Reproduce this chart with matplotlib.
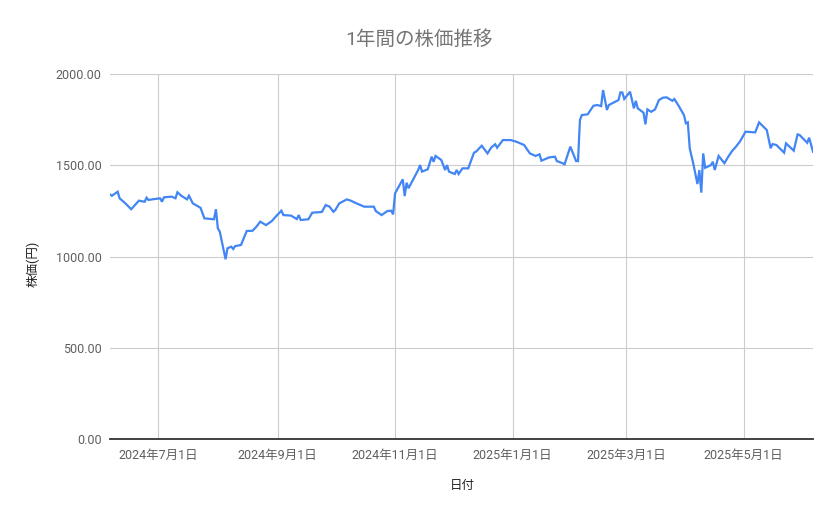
import pandas as pd
import matplotlib.pyplot as plt

# 読み取った株価データ
dates = [
    "2024-06-06", "2024-06-07", "2024-06-10", "2024-06-11", "2024-06-13", "2024-06-14",
    "2024-06-17", "2024-06-21", "2024-06-24", "2024-06-25", "2024-06-26", "2024-07-02",
    "2024-07-03", "2024-07-04", "2024-07-08", "2024-07-10", "2024-07-11", "2024-07-13",
    "2024-07-16", "2024-07-17", "2024-07-19", "2024-07-23", "2024-07-25", "2024-07-30",
    "2024-07-31", "2024-08-01", "2024-08-02", "2024-08-05", "2024-08-06", "2024-08-08",
    "2024-08-09", "2024-08-10", "2024-08-13", "2024-08-16", "2024-08-19", "2024-08-21",
    "2024-08-23", "2024-08-26", "2024-08-29", "2024-08-31", "2024-09-03", "2024-09-04",
    "2024-09-08", "2024-09-11", "2024-09-12", "2024-09-13", "2024-09-17", "2024-09-19",
    "2024-09-24", "2024-09-26", "2024-09-28", "2024-09-30", "2024-10-01", "2024-10-03",
    "2024-10-07", "2024-10-09", "2024-10-12", "2024-10-16", "2024-10-21", "2024-10-22",
    "2024-10-25", "2024-10-28", "2024-10-30", "2024-10-31", "2024-11-01", "2024-11-05",
    "2024-11-06", "2024-11-07", "2024-11-08", "2024-11-13", "2024-11-14", "2024-11-15",
    "2024-11-18", "2024-11-20", "2024-11-21", "2024-11-22", "2024-11-25", "2024-11-27",
    "2024-11-28", "2024-11-29", "2024-12-02", "2024-12-03", "2024-12-04", "2024-12-06",
    "2024-12-09", "2024-12-12", "2024-12-13", "2024-12-16", "2024-12-19", "2024-12-21",
    "2024-12-23", "2024-12-24", "2024-12-27", "2024-12-31", "2025-01-03", "2025-01-07",
    "2025-01-10", "2025-01-13", "2025-01-15", "2025-01-16", "2025-01-20", "2025-01-23",
    "2025-01-24", "2025-01-27", "2025-01-28", "2025-01-31", "2025-02-03", "2025-02-04",
    "2025-02-05", "2025-02-06", "2025-02-09", "2025-02-12", "2025-02-14", "2025-02-16",
    "2025-02-17", "2025-02-19", "2025-02-20", "2025-02-25", "2025-02-26", "2025-02-27",
    "2025-02-28", "2025-03-03", "2025-03-05", "2025-03-06", "2025-03-07", "2025-03-10",
    "2025-03-11", "2025-03-12", "2025-03-14", "2025-03-16", "2025-03-18", "2025-03-20",
    "2025-03-22", "2025-03-25", "2025-03-26", "2025-03-28", "2025-03-31", "2025-04-01",
    "2025-04-02", "2025-04-03", "2025-04-05", "2025-04-07", "2025-04-08", "2025-04-09",
    "2025-04-10", "2025-04-11", "2025-04-14", "2025-04-15", "2025-04-16", "2025-04-18",
    "2025-04-21", "2025-04-23", "2025-04-25", "2025-04-27", "2025-04-29", "2025-05-02",
    "2025-05-07", "2025-05-09", "2025-05-13", "2025-05-15", "2025-05-16", "2025-05-18",
    "2025-05-22", "2025-05-23", "2025-05-27", "2025-05-29", "2025-05-30", "2025-06-03",
    "2025-06-04", "2025-06-06",
]
prices = [
    1340, 1333, 1355, 1319, 1300, 1291,
    1259, 1306, 1300, 1322, 1310, 1319,
    1300, 1324, 1328, 1319, 1352, 1333,
    1313, 1333, 1291, 1267, 1209, 1204,
    1259, 1154, 1136, 985, 1045, 1054,
    1041, 1057, 1063, 1140, 1141, 1163,
    1191, 1172, 1194, 1218, 1251, 1227,
    1224, 1205, 1227, 1200, 1204, 1240,
    1244, 1282, 1273, 1245, 1255, 1291,
    1313, 1306, 1291, 1273, 1273, 1249,
    1227, 1249, 1251, 1231, 1346, 1423,
    1331, 1404, 1374, 1474, 1501, 1465,
    1478, 1547, 1519, 1551, 1529, 1474,
    1501, 1465, 1452, 1474, 1452, 1483,
    1483, 1569, 1574, 1607, 1565, 1598,
    1615, 1596, 1638, 1638, 1629, 1611,
    1565, 1551, 1560, 1525, 1543, 1547,
    1523, 1511, 1505, 1602, 1523, 1523,
    1748, 1775, 1779, 1826, 1830, 1824,
    1912, 1803, 1830, 1857, 1899, 1899,
    1863, 1903, 1812, 1853, 1812, 1788,
    1724, 1806, 1793, 1806, 1857, 1870,
    1872, 1853, 1863, 1830, 1775, 1730,
    1735, 1593, 1501, 1397, 1474, 1350,
    1565, 1486, 1501, 1519, 1474, 1551,
    1511, 1547, 1578, 1602, 1629, 1684,
    1680, 1735, 1693, 1593, 1616, 1611,
    1569, 1620, 1580, 1669, 1666, 1623,
    1651, 1574,
]

tick_dates = ["2024-07-01", "2024-09-01", "2024-11-01", "2025-01-01", "2025-03-01", "2025-05-01"]
tick_labels = ["2024年7月1日", "2024年9月1日", "2024年11月1日", "2025年1月1日", "2025年3月1日", "2025年5月1日"]
y_ticks = [0, 500, 1000, 1500, 2000]

plt.rcParams['font.family'] = ['Roboto', 'Noto Sans CJK JP', 'DejaVu Sans']

t = pd.to_datetime(pd.Series(dates)).to_numpy()
ticks = pd.to_datetime(pd.Series(tick_dates)).to_numpy()

fig = plt.figure(figsize=(8.39, 5.19), dpi=100)
ax = fig.add_axes([110 / 839, 1 - 439 / 519, 703 / 839, 365 / 519])

ax.plot(t, prices, color='#4285F4', linewidth=1.6, solid_joinstyle='miter')

ax.set_xlim(t[0], t[-1])
ax.set_ylim(0, 2000)
ax.set_yticks(y_ticks)
ax.set_yticklabels([f'{v:.2f}' for v in y_ticks])
ax.set_xticks(ticks)
ax.set_xticklabels(tick_labels)

ax.grid(True, color='#cccccc', linewidth=0.8)
ax.set_axisbelow(True)
for side in ['top', 'right', 'left']:
    ax.spines[side].set_visible(False)
ax.spines['bottom'].set_color('#333333')
ax.spines['bottom'].set_linewidth(1.3)
ax.spines['bottom'].set_zorder(3)

ax.tick_params(axis='both', length=0, labelsize=9, colors='#5f5f5f')
ax.tick_params(axis='x', pad=7)
ax.tick_params(axis='y', pad=6)

fig.text(0.5, 1 - 40 / 519, '1年間の株価推移', ha='center', va='center',
         fontsize=14, color='#757575')
fig.text(33 / 839, 1 - 264 / 519, '株価(円)', ha='center', va='center',
         rotation=90, fontsize=9, color='#222222')
fig.text(462 / 839, 1 - 486 / 519, '日付', ha='center', va='center',
         fontsize=9, color='#222222')

plt.savefig('out.png', dpi=100)
